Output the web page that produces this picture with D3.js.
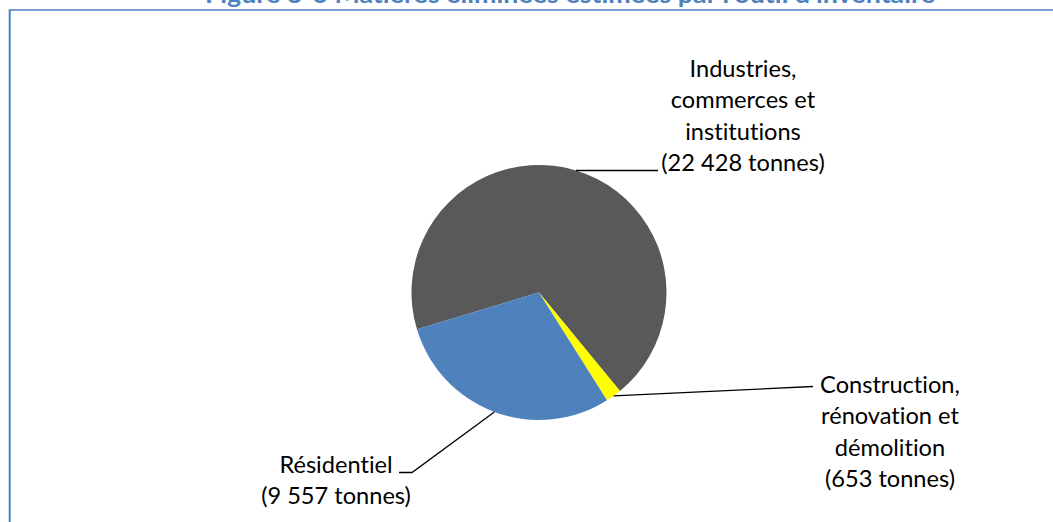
<!DOCTYPE html>
<html>
<head>
<meta charset="utf-8">
<script src="https://cdn.jsdelivr.net/npm/d3@7/dist/d3.min.js"></script>
<style>
  html, body { margin: 0; padding: 0; background: #ffffff; }
  svg { display: block; }
  text { font-variant-ligatures: none; font-feature-settings: "liga" 0, "clig" 0; }
</style>
</head>
<body>
<svg id="chart" width="1053" height="522"></svg>
<script>
// Matières éliminées par secteur (tonnes)
const categories = ["Industries, commerces et institutions", "Construction, rénovation et démolition", "Résidentiel"];
const values = [22428, 653, 9557];
const labelLines = [
  ["Industries,", "commerces et", "institutions", "(22 428 tonnes)"],
  ["Construction,", "rénovation et", "démolition", "(653 tonnes)"],
  ["Résidentiel", "(9 557 tonnes)"]
];
const sliceColors = ["#595959", "#FFFF00", "#4F81BD"];
const title = "Figure 3-6 Matières éliminées estimées par l’outil d’inventaire";

const svg = d3.select("#chart");
const W = 1053, H = 522;
const FONT = "Lato, 'Open Sans', 'Liberation Sans', sans-serif";

// Title (runs off the top edge of the frame)
svg.append("text")
  .attr("x", 570).attr("y", 3)
  .attr("text-anchor", "middle")
  .attr("font-family", FONT)
  .attr("font-weight", "bold")
  .attr("font-size", 25)
  .attr("fill", "#4F81BD")
  .attr("textLength", 730)
  .attr("lengthAdjust", "spacingAndGlyphs")
  .text(title);

// Chart frame
svg.append("line").attr("x1", 9.5).attr("x2", W + 5).attr("y1", 10).attr("y2", 10)
  .attr("stroke", "#4F81BD").attr("stroke-width", 1.5);
svg.append("line").attr("x1", 9.7).attr("x2", 9.7).attr("y1", 9.3).attr("y2", H + 5)
  .attr("stroke", "#4F81BD").attr("stroke-width", 2);

// Pie
const cx = 539, cy = 292.5, r = 127.5;
const color = d3.scaleOrdinal().domain(categories).range(sliceColors);
const startDeg = -106.8;
const pieGen = d3.pie().sort(null).value(d => d.v)
  .startAngle(startDeg * Math.PI / 180)
  .endAngle((startDeg + 360) * Math.PI / 180);
const data = categories.map((c, i) => ({ cat: c, v: values[i], i }));
const slices = pieGen(data);
const arc = d3.arc().innerRadius(0).outerRadius(r);

const g = svg.append("g").attr("transform", `translate(${cx},${cy})`);
g.selectAll("path").data(slices).join("path")
  .attr("d", arc)
  .attr("fill", d => color(d.data.cat));

// Label layout: text block centre x, first baseline, leader elbow and end
const lineGap = 31.6;
const layout = [
  { x: 743, y: 76.5, elbow: null, end: [658, null] },
  { x: 890, y: 392.5, elbow: null, end: [813, 386.5] },
  { x: 336, y: 472.5, elbow: [412, 472.5], end: [399, 472.5] }
];

function edgePoint(s) {
  const a = (s.startAngle + s.endAngle) / 2;
  return [cx + r * Math.sin(a), cy - r * Math.cos(a)];
}

slices.forEach((s, i) => {
  const L = layout[i];
  const p0 = edgePoint(s);
  let pts;
  if (i === 0) {
    pts = [p0, [L.end[0], p0[1]]];
  } else if (L.elbow) {
    pts = [p0, L.elbow, L.end];
  } else {
    pts = [p0, L.end];
  }
  svg.append("path")
    .attr("d", d3.line()(pts))
    .attr("fill", "none")
    .attr("stroke", "#000")
    .attr("stroke-width", 1.3);

  const t = svg.append("text")
    .attr("font-family", FONT)
    .attr("font-size", 23.6)
    .attr("fill", "#000")
    .attr("text-anchor", "middle");
  labelLines[i].forEach((ln, k) => {
    t.append("tspan").attr("x", L.x).attr("y", L.y + k * lineGap).text(ln);
  });
});
</script>
</body>
</html>
